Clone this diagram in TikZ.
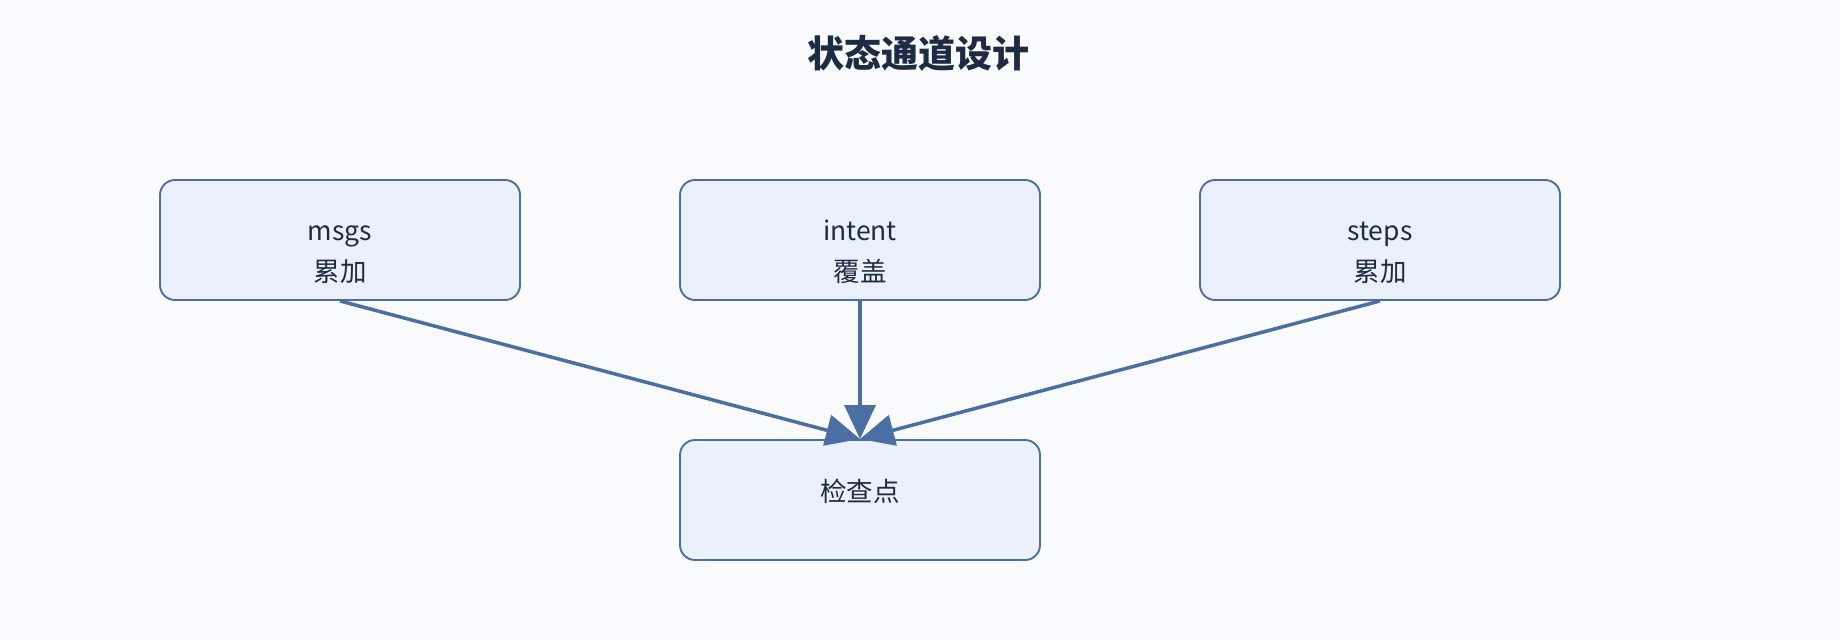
\documentclass[tikz,border=0pt]{standalone}
\usepackage{fontspec}
\setmainfont{Noto Sans CJK SC}
\usetikzlibrary{arrows.meta}
\definecolor{bgcol}{HTML}{F9FBFF}
\definecolor{boxfill}{HTML}{EAF1FC}
\definecolor{boxline}{HTML}{4A6FA5}
\definecolor{txtcol}{HTML}{1E2B45}
\begin{document}
\begin{tikzpicture}
  [x=1pt,y=-1pt,
   box/.style={draw=boxline,fill=boxfill,line width=1.9pt,rounded corners=15pt,
     minimum width=360pt,minimum height=120pt,inner sep=0pt},
   txt/.style={anchor=base,text=txtcol,inner sep=0pt,font=\fontsize{26.5}{30}\selectfont},
   link/.style={draw=boxline,line width=3.5pt,-{Triangle[length=34pt,width=31pt]}}]
  \fill[bgcol] (0,0) rectangle (1840,640);
  \useasboundingbox (0,0) rectangle (1840,640);

  \node[anchor=base,text=txtcol,font=\fontsize{37}{40}\selectfont\bfseries] (title) at (918,67) {状态通道设计};

  \node[box] (msgs) at (340,240) {};
  \node[box] (intent) at (860,240) {};
  \node[box] (steps) at (1380,240) {};
  \node[box] (ckpt) at (860,500) {};

  \node[txt] (msgs1) at (340,240) {msgs};
  \node[txt] (msgs2) at (340,281) {累加};
  \node[txt] (intent1) at (860,240) {intent};
  \node[txt] (intent2) at (860,281) {覆盖};
  \node[txt] (steps1) at (1380,240) {steps};
  \node[txt] (steps2) at (1380,281) {累加};
  \node[txt] (ckpt1) at (860,501) {检查点};

  \foreach \from/\to in {msgs/ckpt,intent/ckpt,steps/ckpt}
    \draw[link] (\from.south) -- (\to.north);
\end{tikzpicture}
\end{document}
